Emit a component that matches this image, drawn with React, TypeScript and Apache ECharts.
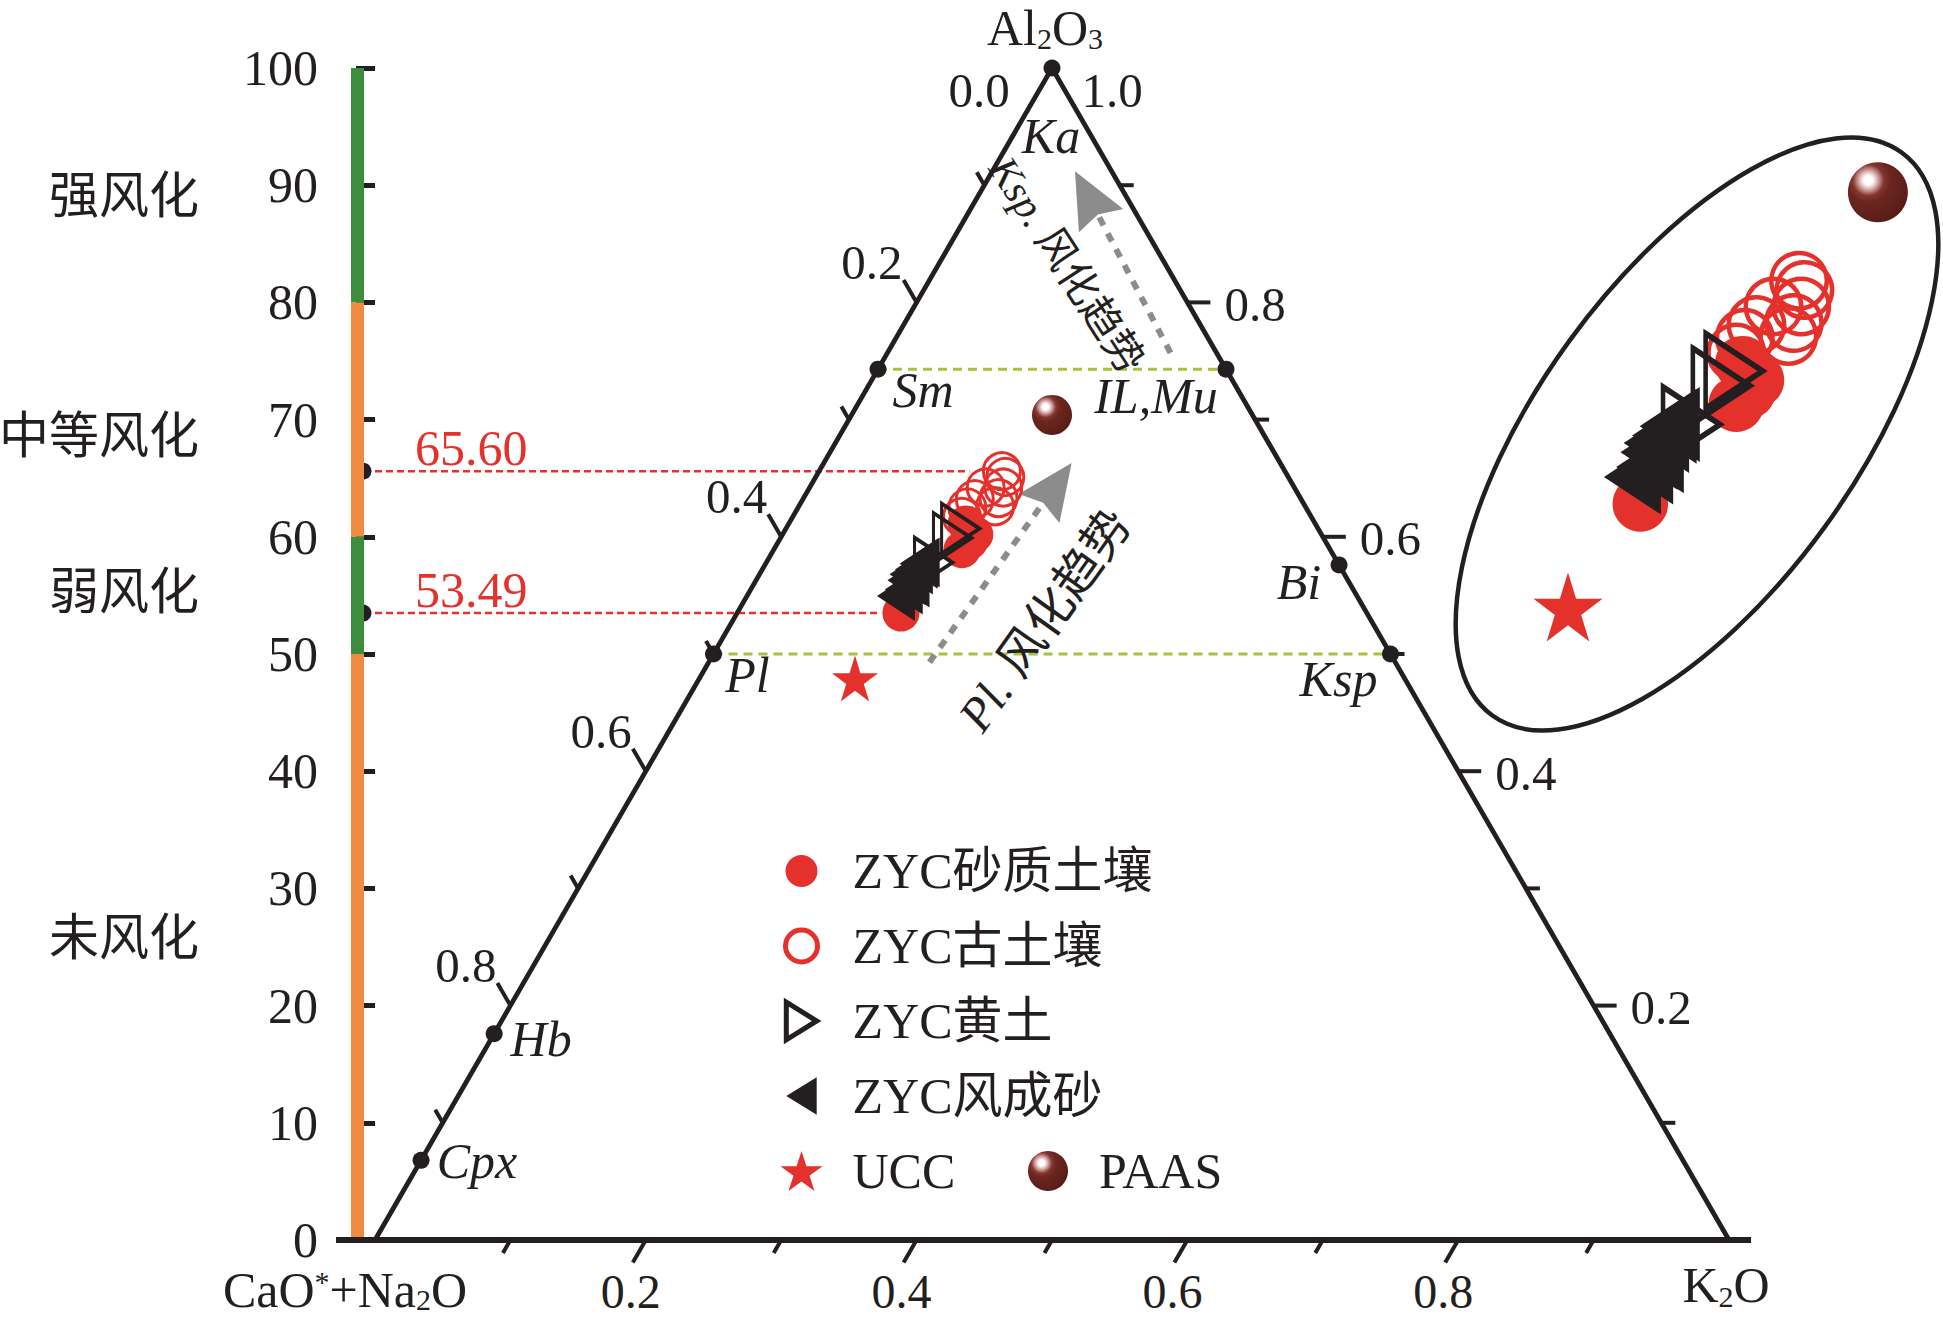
import React, { useEffect, useRef } from 'react';
import * as echarts from 'echarts';

// ================= DATA (A–CN–K ternary, mol %) =================
// each pair = [Al2O3, K2O]; CaO*+Na2O = 100 − Al2O3 − K2O
const sandySoil = [[53.49, 12.1], [58.9, 13.9], [59.6, 14.1], [60.2, 14.2], [61.1, 13.1]];
const paleosol = [[65.6, 13.5], [65.1, 14.0], [64.2, 14.3], [64.2, 13.0], [63.2, 12.7], [62.5, 12.5], [63.3, 14.4], [62.6, 14.5], [61.7, 12.5]];
const loess = [[60.7, 12.9], [59.9, 12.7], [57.8, 12.35]];
const aeolianSand = [[54.95, 11.0], [56.3, 11.1], [56.8, 11.0], [57.7, 11.3], [57.8, 11.4], [57.2, 11.2], [56.1, 11.5], [55.5, 11.3]];
const uccPoint = [[47.9, 11.5]];
const paasPoint = [[70.4, 14.8]];

const mineralNames = ['Ka', 'Sm', 'IL,Mu', 'Bi', 'Pl', 'Ksp', 'Hb', 'Cpx'];
const mineralAl2O3 = [100, 74.3, 74.3, 57.6, 50, 50, 17.6, 6.8];
const mineralK2O = [0, 0, 25.7, 42.4, 0, 50, 0, 0];
const tieLines = [['Sm', 'IL,Mu'], ['Pl', 'Ksp']];

const ciaValues = [65.6, 53.49];
const ciaLineEndK2O = [11.1, 10.6];

const weatheringBandTop = [100, 80, 60, 50];
const weatheringBandBottom = [80, 60, 50, 0];
const weatheringNames = ['强风化', '中等风化', '弱风化', '未风化'];
const weatheringLabelAt = [89.1, 68.6, 55.3, 25.8];

const ternaryTicks = [0.1, 0.2, 0.3, 0.4, 0.5, 0.6, 0.7, 0.8, 0.9];
const ternaryMajor = [0.2, 0.4, 0.6, 0.8];

const arrowNames = ['Pl.', 'Ksp.'];
const arrowFrom = [[49.3, 16.3], [75.7, 20.9]];
const arrowTo = [[66.3, 18.3], [91.2, 6.1]];
const arrowLabelAt = [[52.9, 23.0], [83.2, 9.5]];

// ================= STYLE / LAYOUT =================
const INK = '#231f20';
const RED = '#e4312c';
const GREEN_BAND = '#3c8e3e';
const ORANGE_BAND = '#ef8c40';
const BAND_COLORS = [GREEN_BAND, ORANGE_BAND, GREEN_BAND, ORANGE_BAND];
const TIE_GREEN = '#a3c43b';
const ARROW_GRAY = '#8c8c8c';
const FONT = "'Liberation Serif','Times New Roman','Noto Sans CJK SC',serif";

const W = 1943;
const H = 1319;
const PLOT_LEFT = 351;
const PLOT_RIGHT = 1750;
const PLOT_TOP = 68;
const PLOT_BOTTOM = 1240;
const TRI_LEFT = 375;
const TRI_RIGHT = 1729;
const SIDE = TRI_RIGHT - TRI_LEFT;
const X_MIN = (PLOT_LEFT - TRI_LEFT) / SIDE;
const X_MAX = (PLOT_RIGHT - TRI_LEFT) / SIDE;
const PX_PER_Y = (PLOT_BOTTOM - PLOT_TOP) / 100;
const BAR_W = 13;

const MINERAL_LABEL_OFFSET: Record<string, number[]> = {
  Ka: [-1, 68], Sm: [45, 21], 'IL,Mu': [-70, 27], Bi: [-40, 17],
  Pl: [34, 21], Ksp: [-52, 25], Hb: [47, 5], Cpx: [56, 1],
};
const ARROW_TEXT_ROT = [54.5, -57];
const ARROW_TEXT_SIZE = [48, 41];

// ternary → cartesian (x: 0..1 along base, y: Al2O3 %)
const toXY = (a: number, k: number): number[] => [k / 100 + a / 200, a];
const pts = (arr: number[][]) => arr.map(([a, k]) => toXY(a, k));

// magnified inset (same data, zoomed copy)
const INSET_ZOOM = 1.573;
const INSET_ANCHOR_PX = [1568, 607];
const INSET_BOX = { left: 1490, top: 80, width: 453, height: 640 };
const uccXY = toXY(uccPoint[0][0], uccPoint[0][1]);
const insetXMin = uccXY[0] - (INSET_ANCHOR_PX[0] - INSET_BOX.left) / (SIDE * INSET_ZOOM);
const insetXMax = insetXMin + INSET_BOX.width / (SIDE * INSET_ZOOM);
const insetYMax = uccXY[1] + (INSET_ANCHOR_PX[1] - INSET_BOX.top) / (PX_PER_Y * INSET_ZOOM);
const insetYMin = insetYMax - INSET_BOX.height / (PX_PER_Y * INSET_ZOOM);

const TRI_RIGHT_PATH = 'path://M0,0L30,20L0,40Z';
const TRI_LEFT_PATH = 'path://M30,0L0,20L30,40Z';
const STAR_PATH = 'path://M50,0L61.2,34.5L97.6,34.5L68.2,55.9L79.4,90.5L50,69.1L20.6,90.5L31.8,55.9L2.4,34.5L38.8,34.5Z';
// legend icons (padded boxes so that icons get the reference sizes)
const LEG_CIRCLE = 'path://M0,0M100,100M50,10A40,40 0 1 1 50,90A40,40 0 1 1 50,10Z';
const LEG_TRI_R = 'path://M0,0M100,100M12,3L88,50L12,97Z';
const LEG_TRI_L = 'path://M0,0M100,100M88,3L12,50L88,97Z';

const paasGradient = () =>
  new echarts.graphic.RadialGradient(0.34, 0.3, 0.72, [
    { offset: 0, color: '#ffffff' },
    { offset: 0.1, color: '#ffffff' },
    { offset: 0.16, color: '#eed6d6' },
    { offset: 0.26, color: '#c08886' },
    { offset: 0.36, color: '#843630' },
    { offset: 0.5, color: '#6c2621' },
    { offset: 1, color: '#5a1c18' },
  ]);

function dataSeries(inset: boolean): any[] {
  const s = inset ? 1.5 : 1;
  const axis = inset ? { xAxisIndex: 1, yAxisIndex: 1 } : { xAxisIndex: 0, yAxisIndex: 0 };
  const list: any[] = [
    { name: 'ZYC砂质土壤', data: pts(sandySoil), symbol: 'circle', symbolSize: 37 * s, itemStyle: { color: RED, opacity: 1 }, z: 7 },
    { name: 'ZYC古土壤', data: pts(paleosol), symbol: 'circle', symbolSize: 37 * s, itemStyle: { color: 'rgba(255,255,255,0)', borderColor: RED, borderWidth: 3 * s, opacity: 1 }, z: 8 },
    { name: 'ZYC黄土', data: pts(loess), symbol: TRI_RIGHT_PATH, symbolSize: [38 * s, 50 * s], itemStyle: { color: 'rgba(255,255,255,0)', borderColor: INK, borderWidth: 3.5 * s, opacity: 1 }, z: 9 },
    { name: 'ZYC风成砂', data: pts(aeolianSand), symbol: TRI_LEFT_PATH, symbolSize: [38 * s, 50 * s], itemStyle: { color: INK, opacity: 1 }, z: 10 },
    { name: 'UCC', data: pts(uccPoint), symbol: STAR_PATH, symbolSize: 46 * s, itemStyle: { color: RED, opacity: 1 }, z: 11 },
    { name: 'PAAS', data: pts(paasPoint), symbol: 'circle', symbolSize: 40 * s, itemStyle: { color: paasGradient(), opacity: 1 }, z: 11 },
  ];
  return list.map((x) => ({ type: 'scatter', ...axis, ...x, silent: true, clip: false, emphasis: { disabled: true } }));
}

function frameRender(params: any, api: any) {
  const P = (a: number, k: number) => api.coord(toXY(a, k));
  const bl = P(0, 0);
  const ap = P(100, 0);
  const br = P(0, 100);
  const leftEdge = api.coord([X_MIN, 0]);
  const children: any[] = [];
  const txt = (x: number, y: number, text: string, align: string, fs = 49) => ({
    type: 'text', x, y,
    style: { text, fill: INK, fontSize: fs, lineHeight: 36, fontFamily: FONT, align, verticalAlign: 'middle' },
  });
  const tick = (b: number[], d: number[], len: number) => ({
    type: 'line',
    shape: { x1: b[0], y1: b[1], x2: b[0] + d[0] * len, y2: b[1] + d[1] * len },
    style: { stroke: INK, lineWidth: 4 },
  });
  children.push({ type: 'line', shape: { x1: leftEdge[0] - 15, y1: bl[1], x2: br[0] + 22, y2: br[1] }, style: { stroke: INK, lineWidth: 6 } });
  children.push({ type: 'polyline', shape: { points: [bl, ap, br] }, style: { stroke: INK, lineWidth: 4.8, fill: null } });
  ternaryTicks.forEach((t) => {
    const major = ternaryMajor.indexOf(t) >= 0;
    const v = t * 100;
    // base (K2O)
    const b1 = P(0, v);
    children.push(tick(b1, [-0.5, 0.866], major ? 26 : 15));
    if (major) children.push(txt(b1[0] - 15, b1[1] + 51, t.toFixed(1), 'center', 48));
    // left side (CaO*+Na2O)
    const b2 = P(v, 0);
    children.push(tick(b2, [-0.5, -0.866], major ? 26 : 15));
    if (major) children.push(txt(b2[0] - 14, b2[1] - 40, (1 - t).toFixed(1), 'right'));
    // right side (Al2O3)
    const b3 = P(v, 100 - v);
    children.push(tick(b3, [1, 0], major ? 23 : 14));
    if (major) children.push(txt(b3[0] + 37, b3[1] + 2, t.toFixed(1), 'left'));
  });
  children.push(txt(ap[0] - 73, ap[1] + 22, '0.0', 'center'));
  children.push(txt(ap[0] + 60, ap[1] + 22, '1.0', 'center'));
  return { type: 'group', children };
}

function buildOption(): any {
  const mineralIdx = (n: string) => mineralNames.indexOf(n);
  const series: any[] = [];

  // CIA reference lines (behind the bands)
  series.push({
    type: 'custom', name: 'cia', silent: true, z: 2,
    data: ciaValues.map((v, i) => [v, ciaLineEndK2O[i]]),
    renderItem: (params: any, api: any) => {
      const v = api.value(0);
      const endK = api.value(1);
      const st = api.coord([X_MIN, v]);
      const sx = st[0] + BAR_W;
      const end = api.coord(toXY(v, endK));
      return {
        type: 'group',
        children: [
          { type: 'line', shape: { x1: sx, y1: st[1], x2: end[0], y2: end[1] }, style: { stroke: RED, lineWidth: 2.5, lineDash: [7, 4] } },
          { type: 'circle', shape: { cx: sx - 1, cy: st[1], r: 8.5 }, style: { fill: INK } },
          { type: 'text', x: sx + 51, y: st[1] - 23, style: { text: v.toFixed(2), fill: RED, fontSize: 50, fontFamily: FONT, align: 'left', verticalAlign: 'middle' } },
        ],
      };
    },
  });

  // weathering bands on the y axis
  series.push({
    type: 'custom', name: 'bands', silent: true, z: 3,
    data: weatheringBandTop.map((t, i) => [t, weatheringBandBottom[i]]),
    renderItem: (params: any, api: any) => {
      const p1 = api.coord([X_MIN, api.value(0)]);
      const p2 = api.coord([X_MIN, api.value(1)]);
      return { type: 'rect', shape: { x: p1[0], y: p1[1], width: BAR_W, height: p2[1] - p1[1] }, style: { fill: BAND_COLORS[params.dataIndex] } };
    },
  });

  // weathering class names
  series.push({
    type: 'custom', name: 'bandNames', silent: true, z: 3,
    data: weatheringLabelAt.map((v, i) => [v, i]),
    renderItem: (params: any, api: any) => {
      const p = api.coord([X_MIN, api.value(0)]);
      return { type: 'text', x: p[0] - 152, y: p[1], style: { text: weatheringNames[params.dataIndex], fill: INK, fontSize: 50, fontFamily: FONT, align: 'right', verticalAlign: 'middle' } };
    },
  });

  // ternary frame, ticks and tick labels
  series.push({ type: 'custom', name: 'frame', silent: true, z: 4, data: [[0, 0]], renderItem: frameRender });

  // green dashed tie lines
  series.push({
    type: 'custom', name: 'ties', silent: true, z: 4,
    data: tieLines.map(([a, b]) => {
      const i = mineralIdx(a);
      const j = mineralIdx(b);
      return [...toXY(mineralAl2O3[i], mineralK2O[i]), ...toXY(mineralAl2O3[j], mineralK2O[j])];
    }),
    renderItem: (params: any, api: any) => {
      const p = api.coord([api.value(0), api.value(1)]);
      const q = api.coord([api.value(2), api.value(3)]);
      return { type: 'line', shape: { x1: p[0], y1: p[1], x2: q[0], y2: q[1] }, style: { stroke: TIE_GREEN, lineWidth: 3, lineDash: [9, 6] } };
    },
  });

  // weathering-trend arrows
  series.push({
    type: 'custom', name: 'arrows', silent: true, z: 5,
    data: arrowFrom.map((f, i) => [...toXY(f[0], f[1]), ...toXY(arrowTo[i][0], arrowTo[i][1]), ...toXY(arrowLabelAt[i][0], arrowLabelAt[i][1])]),
    renderItem: (params: any, api: any) => {
      const i = params.dataIndex;
      const t = api.coord([api.value(0), api.value(1)]);
      const h = api.coord([api.value(2), api.value(3)]);
      const l = api.coord([api.value(4), api.value(5)]);
      const dx = h[0] - t[0];
      const dy = h[1] - t[1];
      const len = Math.hypot(dx, dy);
      const ux = dx / len;
      const uy = dy / len;
      const nx = -uy;
      const ny = ux;
      const HL = 56;
      const HW = 25;
      const base = [h[0] - ux * HL, h[1] - uy * HL];
      const notch = [h[0] - ux * (HL - 7), h[1] - uy * (HL - 7)];
      const fs = ARROW_TEXT_SIZE[i];
      return {
        type: 'group',
        children: [
          { type: 'line', shape: { x1: t[0], y1: t[1], x2: notch[0], y2: notch[1] }, style: { stroke: ARROW_GRAY, lineWidth: 6, lineDash: [9, 9] } },
          { type: 'polygon', shape: { points: [h, [base[0] + nx * HW, base[1] + ny * HW], notch, [base[0] - nx * HW, base[1] - ny * HW]] }, style: { fill: ARROW_GRAY } },
          {
            type: 'text', x: l[0], y: l[1], rotation: (ARROW_TEXT_ROT[i] * Math.PI) / 180,
            style: {
              text: '{i|' + arrowNames[i] + ' }{c|风化趋势}',
              rich: {
                i: { fontSize: fs, fontFamily: FONT, fontStyle: 'italic', fill: INK },
                c: { fontSize: fs, fontFamily: FONT, fill: INK },
              },
              align: 'center', verticalAlign: 'middle',
            },
          },
        ],
      };
    },
  });

  // end-member minerals
  series.push({
    type: 'scatter', name: 'minerals', silent: true, z: 6, clip: false,
    data: mineralNames.map((n, i) => ({ name: n, value: toXY(mineralAl2O3[i], mineralK2O[i]), label: { offset: MINERAL_LABEL_OFFSET[n] } })),
    symbol: 'circle', symbolSize: 17, itemStyle: { color: INK, opacity: 1 },
    label: { show: true, position: 'inside', formatter: '{b}', fontSize: 50, fontStyle: 'italic', fontFamily: FONT, color: INK, opacity: 1 },
    emphasis: { disabled: true },
  });

  series.push(...dataSeries(false), ...dataSeries(true));

  const legendText = { fontSize: 50, lineHeight: 50, fontFamily: FONT, color: INK };
  return {
    animation: false,
    backgroundColor: '#ffffff',
    textStyle: { fontFamily: FONT },
    grid: [
      { left: PLOT_LEFT, top: PLOT_TOP, width: PLOT_RIGHT - PLOT_LEFT, height: PLOT_BOTTOM - PLOT_TOP },
      { left: INSET_BOX.left, top: INSET_BOX.top, width: INSET_BOX.width, height: INSET_BOX.height },
    ],
    xAxis: [
      { type: 'value', gridIndex: 0, min: X_MIN, max: X_MAX, show: false },
      { type: 'value', gridIndex: 1, min: insetXMin, max: insetXMax, show: false },
    ],
    yAxis: [
      {
        type: 'value', gridIndex: 0, min: 0, max: 100, interval: 10,
        axisLine: { show: false },
        axisTick: { show: true, length: 19, lineStyle: { color: INK, width: 5 } },
        axisLabel: { fontSize: 50, lineHeight: 36, color: INK, fontFamily: FONT, margin: 33 },
        splitLine: { show: false },
      },
      { type: 'value', gridIndex: 1, min: insetYMin, max: insetYMax, show: false },
    ],
    legend: [
      {
        orient: 'vertical', left: 774, top: 841, itemWidth: 92, itemHeight: 40, itemGap: 25,
        selectedMode: false, textStyle: legendText,
        data: [
          { name: 'ZYC砂质土壤', icon: LEG_CIRCLE },
          { name: 'ZYC古土壤', icon: LEG_CIRCLE, itemStyle: { borderWidth: 5 } },
          { name: 'ZYC黄土', icon: LEG_TRI_R, itemStyle: { borderWidth: 5 } },
          { name: 'ZYC风成砂', icon: LEG_TRI_L },
          { name: 'UCC', icon: STAR_PATH },
        ],
      },
      {
        orient: 'vertical', left: 1023, top: 841 + 4 * 75, itemWidth: 92, itemHeight: 40, itemGap: 25,
        selectedMode: false, textStyle: legendText, data: [{ name: 'PAAS', icon: 'circle' }],
      },
    ],
    graphic: [
      {
        type: 'ellipse', x: 1697, y: 434, rotation: (54 * Math.PI) / 180, z: 1,
        shape: { cx: 0, cy: 0, rx: 348, ry: 158 },
        style: { fill: 'none', stroke: INK, lineWidth: 4.5 },
      },
      {
        type: 'text', x: 1045, y: 28,
        style: {
          text: '{n|Al}{s|2}{n|O}{s|3}', align: 'center', verticalAlign: 'middle',
          rich: { n: { fontSize: 50, fontFamily: FONT, fill: INK }, s: { fontSize: 30, fontFamily: FONT, fill: INK, padding: [20, 0, 0, 0] } },
        },
      },
      {
        type: 'text', x: 345, y: 1290,
        style: {
          text: '{n|CaO}{p|*}{n|+Na}{s|2}{n|O}', align: 'center', verticalAlign: 'middle',
          rich: {
            n: { fontSize: 50, lineHeight: 44, fontFamily: FONT, fill: INK },
            s: { fontSize: 30, lineHeight: 28, fontFamily: FONT, fill: INK, padding: [18, 0, 0, 0] },
            p: { fontSize: 30, lineHeight: 28, fontFamily: FONT, fill: INK, padding: [0, 0, 18, 0] },
          },
        },
      },
      {
        type: 'text', x: 1726, y: 1285,
        style: {
          text: '{n|K}{s|2}{n|O}', align: 'center', verticalAlign: 'middle',
          rich: { n: { fontSize: 50, fontFamily: FONT, fill: INK }, s: { fontSize: 30, fontFamily: FONT, fill: INK, padding: [22, 0, 0, 0] } },
        },
      },
    ],
    series,
  };
}

export default function App() {
  const ref = useRef<HTMLDivElement>(null);
  useEffect(() => {
    document.body.style.margin = '0';
    document.body.style.overflow = 'hidden';
    const chart = echarts.init(ref.current as HTMLDivElement, null, { renderer: 'svg' });
    chart.setOption(buildOption());
    return () => chart.dispose();
  }, []);
  return <div ref={ref} style={{ width: W, height: H }} />;
}
